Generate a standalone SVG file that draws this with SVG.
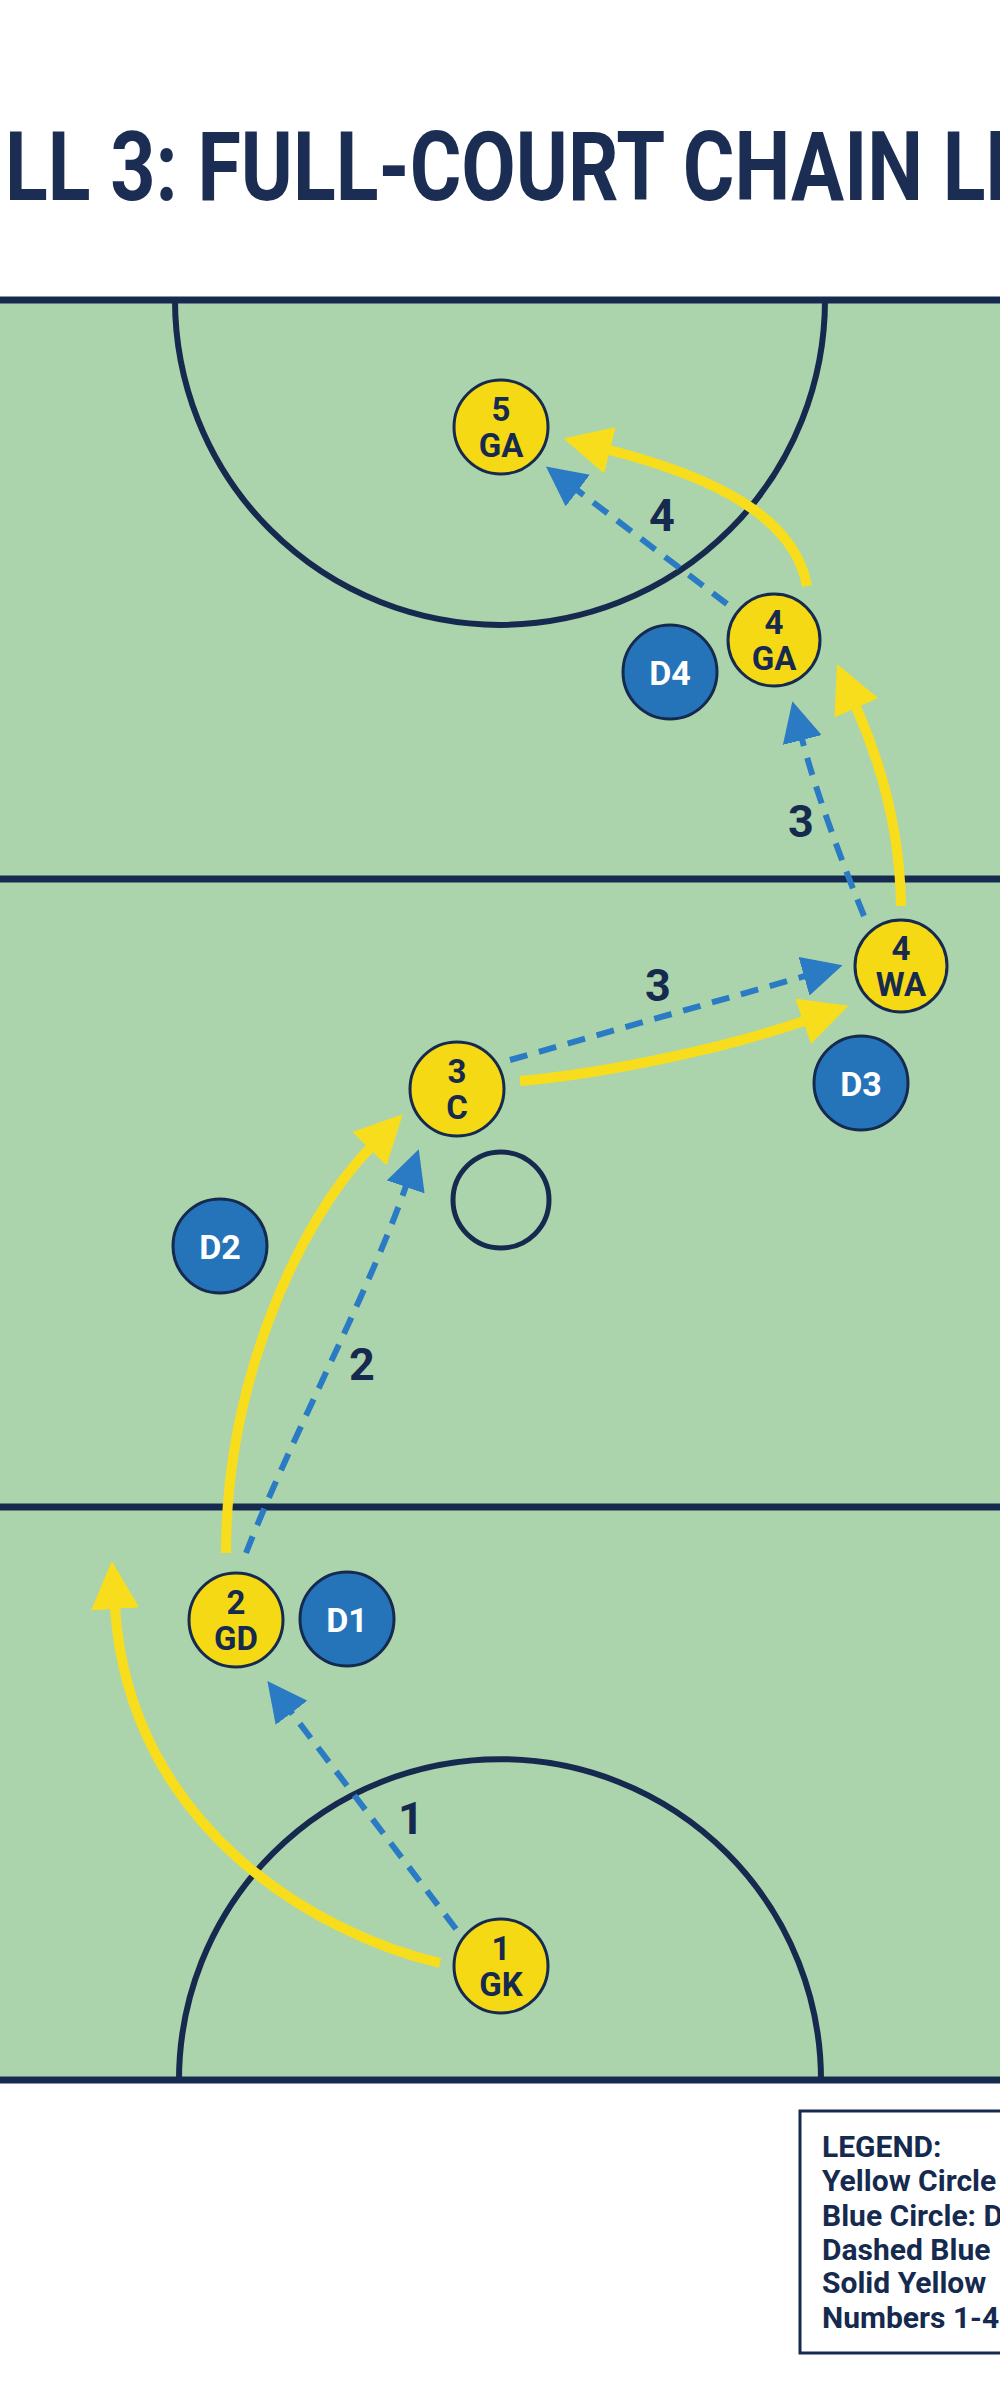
<svg xmlns="http://www.w3.org/2000/svg" width="1000" height="2400" viewBox="0 0 1000 2400">
<defs>
<style>
.court{fill:#acd4ac}
.line{stroke:#152a4e;stroke-width:7;fill:none}
.arc{stroke:#152a4e;stroke-width:6;fill:none}
.pl{fill:#f6d915;stroke:#152a4e;stroke-width:3}
.df{fill:#2573b9;stroke:#152a4e;stroke-width:3}
.pt{font-family:Roboto,'Liberation Sans',sans-serif;font-weight:700;font-size:33px;fill:#152a4e;text-anchor:middle}
.dt{font-family:Roboto,'Liberation Sans',sans-serif;font-weight:700;font-size:34px;fill:#ffffff;text-anchor:middle}
.pass{stroke:#2a7bc4;stroke-width:6;fill:none;stroke-dasharray:18 12;marker-end:url(#mb)}
.run{stroke:#f7dd1c;stroke-width:10;fill:none;marker-end:url(#my)}
.lbl{font-family:Roboto,'Liberation Sans',sans-serif;font-weight:700;font-size:45px;fill:#152a4e;text-anchor:middle}
.leg{font-family:Roboto,'Liberation Sans',sans-serif;font-weight:700;font-size:30px;fill:#152a4e}
</style>
<marker id="mb" viewBox="0 0 40 40" markerWidth="40" markerHeight="40" refX="1" refY="20" orient="auto" markerUnits="userSpaceOnUse"><path d="M0,0 L40,20 L0,40 z" fill="#2a7bc4"/></marker>
<marker id="my" viewBox="0 0 48 48" markerWidth="48" markerHeight="48" refX="1" refY="24" orient="auto" markerUnits="userSpaceOnUse"><path d="M0,0 L48,24 L0,48 z" fill="#f7dd1c"/></marker>
</defs>
<rect width="1000" height="2400" fill="#ffffff"/>
<text x="5" y="200" font-family="Roboto,'Liberation Sans',sans-serif" font-weight="700" font-size="96" fill="#1b2d52" textLength="1025" lengthAdjust="spacingAndGlyphs">LL 3: FULL-COURT CHAIN LE</text>
<g id="court">
<rect class="court" x="0" y="300" width="1000" height="1780"/>
<path class="arc" d="M175,300 A325,325 0 0 0 825,300"/>
<path class="arc" d="M179,2080 A321,321 0 0 1 821,2080"/>
<line class="line" x1="0" y1="300" x2="1000" y2="300"/>
<line class="line" x1="0" y1="879" x2="1000" y2="879"/>
<line class="line" x1="0" y1="1507" x2="1000" y2="1507"/>
<line class="line" x1="0" y1="2080" x2="1000" y2="2080"/>
<circle cx="501" cy="1200" r="48" fill="none" stroke="#152a4e" stroke-width="5"/>
</g>
<g id="connectors">
<path class="run" d="M440,1963 C320,1935 130,1830 115,1608"/>
<path class="pass" d="M456,1929 L291,1712"/>
<path class="run" d="M226,1553 C226,1380 300,1220 370,1148"/>
<path class="pass" d="M246,1553 C290,1440 370,1290 406,1186"/>
<path class="run" d="M520,1081 C600,1074 720,1050 804,1021"/>
<path class="pass" d="M510,1060 L805,976"/>
<path class="run" d="M901,906 C900,820 875,750 856,707"/>
<path class="pass" d="M864,916 C845,870 815,790 802,739"/>
<path class="run" d="M807,586 C795,520 720,478 609,450"/>
<path class="pass" d="M727,604 L577,490"/>
<text class="lbl" x="411" y="1834">1</text>
<text class="lbl" x="362" y="1380">2</text>
<text class="lbl" x="658" y="1001">3</text>
<text class="lbl" x="801" y="837">3</text>
<text class="lbl" x="662" y="531">4</text>
</g>
<g id="gk"><circle class="pl" cx="501" cy="1966" r="47"/><text class="pt" x="501" y="1960">1</text><text class="pt" x="501" y="1996">GK</text></g>
<g id="gd"><circle class="pl" cx="236" cy="1620" r="47"/><text class="pt" x="236" y="1614">2</text><text class="pt" x="236" y="1650">GD</text></g>
<g id="d1"><circle class="df" cx="347" cy="1619" r="47"/><text class="dt" x="347" y="1632">D1</text></g>
<g id="d2"><circle class="df" cx="220" cy="1246" r="47"/><text class="dt" x="220" y="1259">D2</text></g>
<g id="c"><circle class="pl" cx="457" cy="1089" r="47"/><text class="pt" x="457" y="1083">3</text><text class="pt" x="457" y="1119">C</text></g>
<g id="wa"><circle class="pl" cx="901" cy="966" r="46"/><text class="pt" x="901" y="960">4</text><text class="pt" x="901" y="996">WA</text></g>
<g id="d3"><circle class="df" cx="861" cy="1083" r="47"/><text class="dt" x="861" y="1096">D3</text></g>
<g id="ga4"><circle class="pl" cx="774" cy="640" r="46"/><text class="pt" x="774" y="634">4</text><text class="pt" x="774" y="670">GA</text></g>
<g id="d4"><circle class="df" cx="670" cy="672" r="47"/><text class="dt" x="670" y="685">D4</text></g>
<g id="ga5"><circle class="pl" cx="501" cy="427" r="47"/><text class="pt" x="501" y="421">5</text><text class="pt" x="501" y="457">GA</text></g>
<g id="legend">
<rect x="800" y="2111" width="220" height="242" fill="#ffffff" stroke="#152a4e" stroke-width="3"/>
<text class="leg" x="822" y="2157">LEGEND:</text>
<text class="leg" x="822" y="2191">Yellow Circle</text>
<text class="leg" x="822" y="2226">Blue Circle: D</text>
<text class="leg" x="822" y="2260">Dashed Blue</text>
<text class="leg" x="822" y="2293">Solid Yellow</text>
<text class="leg" x="822" y="2328">Numbers 1-4</text>
</g>
</svg>
